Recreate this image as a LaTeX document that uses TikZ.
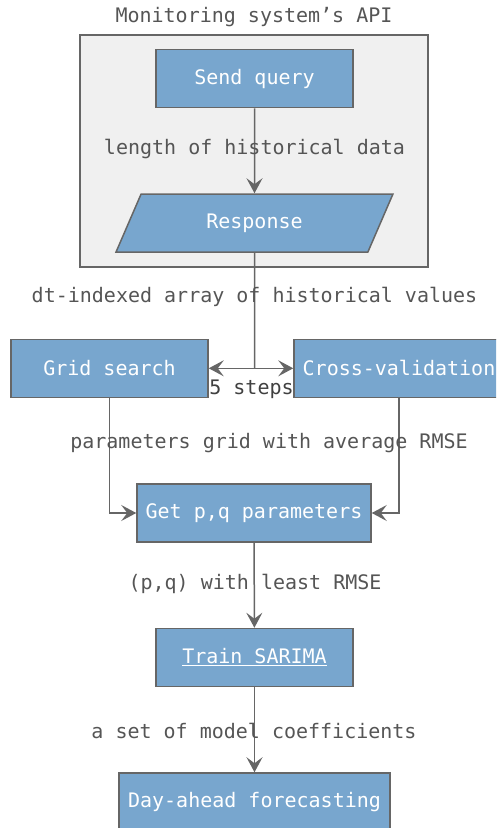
\documentclass[tikz,border=0pt]{standalone}
\usepackage{fontspec}
\usetikzlibrary{arrows.meta,shapes.geometric}
\newfontfamily\monof{DejaVu Sans Mono}
\definecolor{boxfill}{HTML}{78A6CE}
\definecolor{edgegray}{HTML}{666666}
\definecolor{labelgray}{HTML}{555555}
\definecolor{panelfill}{HTML}{F0F0F0}
\tikzset{
  every node/.style={font=\monof\fontsize{20}{24}\selectfont},
  procbox/.style={draw=edgegray, line width=1.5pt, fill=boxfill, text=white,
    minimum height=58pt, inner sep=0pt},
  iobox/.style={trapezium, trapezium left angle=60.4, trapezium right angle=119.6,
    trapezium stretches=true, draw=edgegray, line width=1.5pt, fill=boxfill,
    text=white, minimum width=277pt, minimum height=58pt, inner sep=0pt},
  flowlabel/.style={text=labelgray, inner sep=0pt},
  conn/.style={draw=edgegray, line width=1.5pt},
  tip/.tip={Stealth[length=15pt,width=16pt,inset=6pt]},
  arr/.style={conn, -tip},
  darr/.style={conn, tip-tip},
}
\begin{document}
\begin{tikzpicture}[x=1pt,y=-1pt]
\useasboundingbox (0,0) rectangle (496,828);
\clip (0,0) rectangle (496,828);

% API container
\node[draw=edgegray, line width=1.5pt, fill=panelfill, minimum width=348pt,
  minimum height=232pt, inner sep=0pt] (api) at (254,151) {};
\node[flowlabel] (apititle) at (254,17) {Monitoring system’s API};

% process steps
\node[procbox, minimum width=197pt] (sendq) at (254.5,78.5) {Send query};
\node[iobox] (resp) at (254.5,223) {Response};
\node[procbox, minimum width=197pt] (grid) at (109.5,368.3) {Grid search};
\node[procbox, minimum width=210pt] (cv) at (399,368.3) {Cross-validation};
\node[procbox, minimum width=234pt] (getpq) at (254,513) {Get p,q parameters};
\node[procbox, minimum width=197pt] (train) at (254.5,657.5) {\underline{Train SARIMA}};
\node[procbox, minimum width=271pt] (dayahead) at (254.5,802) {Day-ahead forecasting};

% connectors
\coordinate (split) at (254.5,368.3);
\draw[arr] (sendq) -- (resp);
\draw[conn] (resp.south) -- (split);
\draw[darr] (grid.east) -- (cv.west);
\draw[arr] (grid.south) |- (getpq.west);
\draw[arr] (cv.south) |- (getpq.east);
\draw[arr] (getpq) -- (train);
\draw[arr] (train) -- (dayahead);

% connector labels
\node[flowlabel] (l1) at (254.5,149) {length of historical data};
\node[flowlabel] (l2) at (254.5,297) {dt-indexed array of historical values};
\node[text=black!75, inner sep=0pt] (l3) at (251.5,389) {5 steps};
\node[flowlabel] (l4) at (269,443) {parameters grid with average RMSE};
\node[flowlabel] (l5) at (255,584) {(p,q) with least RMSE};
\node[flowlabel] (l6) at (254,731) {a set of model coefficients};
\end{tikzpicture}
\end{document}
